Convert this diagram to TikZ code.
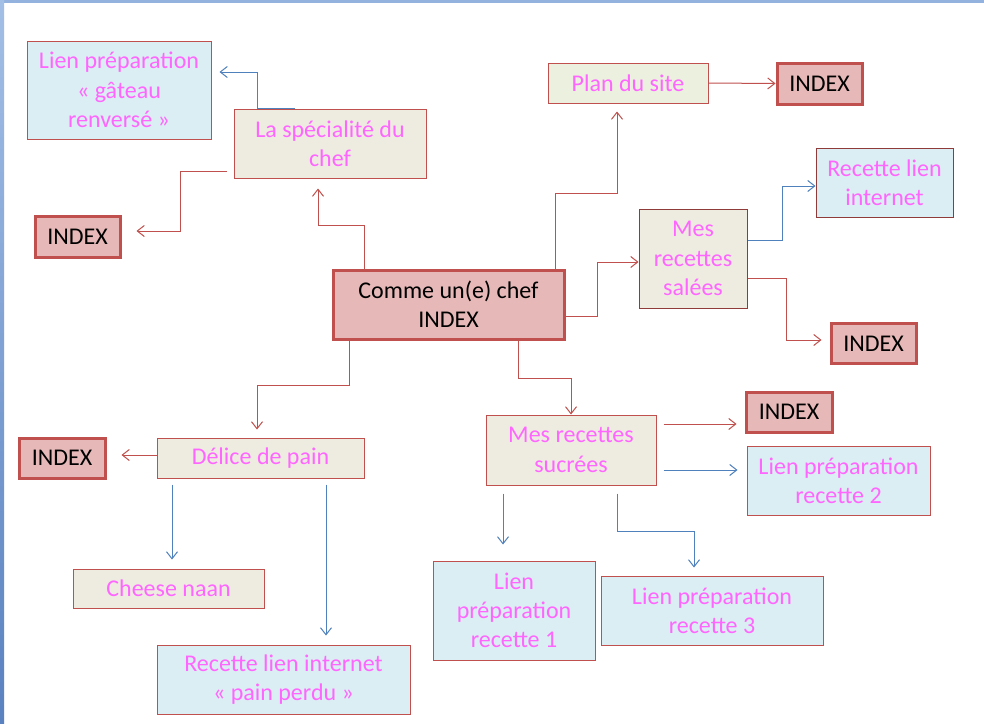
\documentclass[tikz,border=0pt]{standalone}
\usepackage{fontspec}
\setmainfont{Carlito}
\usetikzlibrary{arrows.meta}
\definecolor{boxred}{HTML}{C0504D}
\definecolor{boxdark}{HTML}{8E3B39}
\definecolor{linkblue}{HTML}{4F81BD}
\definecolor{pinktext}{HTML}{FF66FF}
\definecolor{indexfill}{HTML}{E6B9B8}
\definecolor{aquafill}{HTML}{DBEEF3}
\definecolor{tanfill}{HTML}{EEECE1}
\definecolor{olivefill}{HTML}{EBF1DE}
\definecolor{frametop}{HTML}{93B3DE}
\definecolor{framelight}{HTML}{A3BFE6}
\definecolor{framedark}{HTML}{5A82C0}

\begin{document}
\begin{tikzpicture}[
        x=1pt, y=-1pt,
        every node/.style={align=center, inner sep=0pt, font=\fontsize{24}{29.3}\selectfont},
        pinkbox/.style={draw=boxred, line width=1pt, text=pinktext},
        dishbox/.style={pinkbox, fill=tanfill},
        linkbox/.style={pinkbox, fill=aquafill},
        sitebox/.style={pinkbox, fill=olivefill},
        indexbox/.style={draw=boxred, line width=3pt, fill=indexfill, text=black},
        redarrow/.style={draw=boxred, line width=1pt, ->},
        bluearrow/.style={draw=linkblue, line width=1pt, ->},
        >={Straight Barb[length=7pt,width=11pt]},
    ]
    \useasboundingbox (0,0) rectangle (984,723);
    \fill[white] (0,0) rectangle (984,723);
    % window frame of the screenshot
    \fill[frametop] (0,0) rectangle (984,2.5);
    \shade[top color=framelight, bottom color=framedark] (0,0) rectangle (4,723);

    % centre
    \node[indexbox, minimum width=231, minimum height=69] (chef) at (448.5,304.5) {Comme un(e) chef\\INDEX};

    % upper left
    \node[linkbox, minimum width=184, minimum height=98] (gateau) at (119,90) {Lien préparation\\« gâteau\\renversé »};
    \node[dishbox, minimum width=192, minimum height=69] (specialite) at (330,143.5) {La spécialité du\\chef};
    \node[indexbox, minimum width=85, minimum height=41] (indexA) at (77.5,236.5) {INDEX};

    % upper right
    \node[sitebox, minimum width=160, minimum height=40] (plan) at (628,83) {Plan du site};
    \node[indexbox, minimum width=85, minimum height=41] (indexB) at (819.5,83.5) {INDEX};
    \node[linkbox, draw=boxdark, minimum width=137, minimum height=69] (internet) at (884.5,182.5) {Recette lien\\internet};
    \node[dishbox, draw=boxdark, minimum width=108, minimum height=99] (salees) at (693,258.5) {Mes\\recettes\\salées};
    \node[indexbox, minimum width=85, minimum height=40] (indexC) at (873.5,343.5) {INDEX};

    % lower right
    \node[dishbox, minimum width=170, minimum height=70] (sucrees) at (571,450) {Mes recettes\\sucrées};
    \node[indexbox, minimum width=86, minimum height=40] (indexD) at (789,412) {INDEX};
    \node[linkbox, minimum width=183, minimum height=69] (recette2) at (838.5,480.5) {Lien préparation\\recette 2};
    \node[linkbox, minimum width=162, minimum height=99] (recette1) at (514,610.5) {Lien\\préparation\\recette 1};
    \node[linkbox, minimum width=222, minimum height=69] (recette3) at (712,610.5) {Lien préparation\\recette 3};

    % lower left
    \node[dishbox, minimum width=207, minimum height=40] (delice) at (260.5,458) {Délice de pain};
    \node[indexbox, minimum width=86, minimum height=40] (indexE) at (62,458) {INDEX};
    \node[dishbox, minimum width=191, minimum height=39] (cheese) at (168.5,588.5) {Cheese naan};
    \node[linkbox, minimum width=253, minimum height=69] (perdu) at (283.5,679.5) {Recette lien internet\\« pain perdu »};

    % connectors
    \draw[redarrow, shorten >=10pt] ([xshift=-84.5]chef.north) |- (318,225) -- ([xshift=-12]specialite.south);
    \draw[bluearrow, shorten >=8pt] ([xshift=-35]specialite.north) -| (257,72) -- ([yshift=18]gateau.east);
    \draw[redarrow, shorten >=15pt] ([xshift=-7,yshift=-27.5]specialite.west) -| (180,231) -- ([yshift=5.5]indexA.east);

    \draw[redarrow, shorten >=8pt] ([xshift=106.5]chef.north) |- (617,193) -- ([xshift=-11]plan.south);
    \draw[redarrow] (plan.east) -- (indexB.west);
    \draw[redarrow] ([yshift=-11.5]chef.east) -| (597.5,262) -- ([yshift=-3.5]salees.west);
    \draw[bluearrow] ([yshift=18.5]salees.east) -| (782,186) -- ([yshift=-3.5]internet.west);
    \draw[redarrow, shorten >=8pt] ([yshift=-19.5]salees.east) -| (786,340) -- ([yshift=3.5]indexC.west);

    \draw[redarrow] ([xshift=69.5]chef.south) |- (571,378) -- (sucrees.north);
    \draw[redarrow, shorten <=7pt, shorten >=8pt] ([yshift=26]sucrees.east) -- ([yshift=-12]indexD.west);
    \draw[bluearrow, shorten <=7pt, shorten >=9pt] ([yshift=-20]sucrees.east) -- ([yshift=10.5]recette2.west);
    \draw[bluearrow, shorten <=8pt, shorten >=16pt] ([xshift=-68]sucrees.south) -- ([xshift=-11]recette1.north);
    \draw[bluearrow, shorten <=8pt, shorten >=8pt] ([xshift=46]sucrees.south) |- (694,531) -- ([xshift=-18]recette3.north);

    \draw[redarrow, shorten >=8pt] ([xshift=-99.5]chef.south) |- (257,385) -- ([xshift=-3.5]delice.north);
    \draw[redarrow, shorten >=15pt] ([yshift=3]delice.west) -- ([yshift=3]indexE.east);
    \draw[bluearrow, shorten <=6pt, shorten >=9pt] ([xshift=-88.5]delice.south) -- ([xshift=3.5]cheese.north);
    \draw[bluearrow, shorten <=6pt, shorten >=9pt] ([xshift=65.5]delice.south) -- ([xshift=42.5]perdu.north);
\end{tikzpicture}
\end{document}
